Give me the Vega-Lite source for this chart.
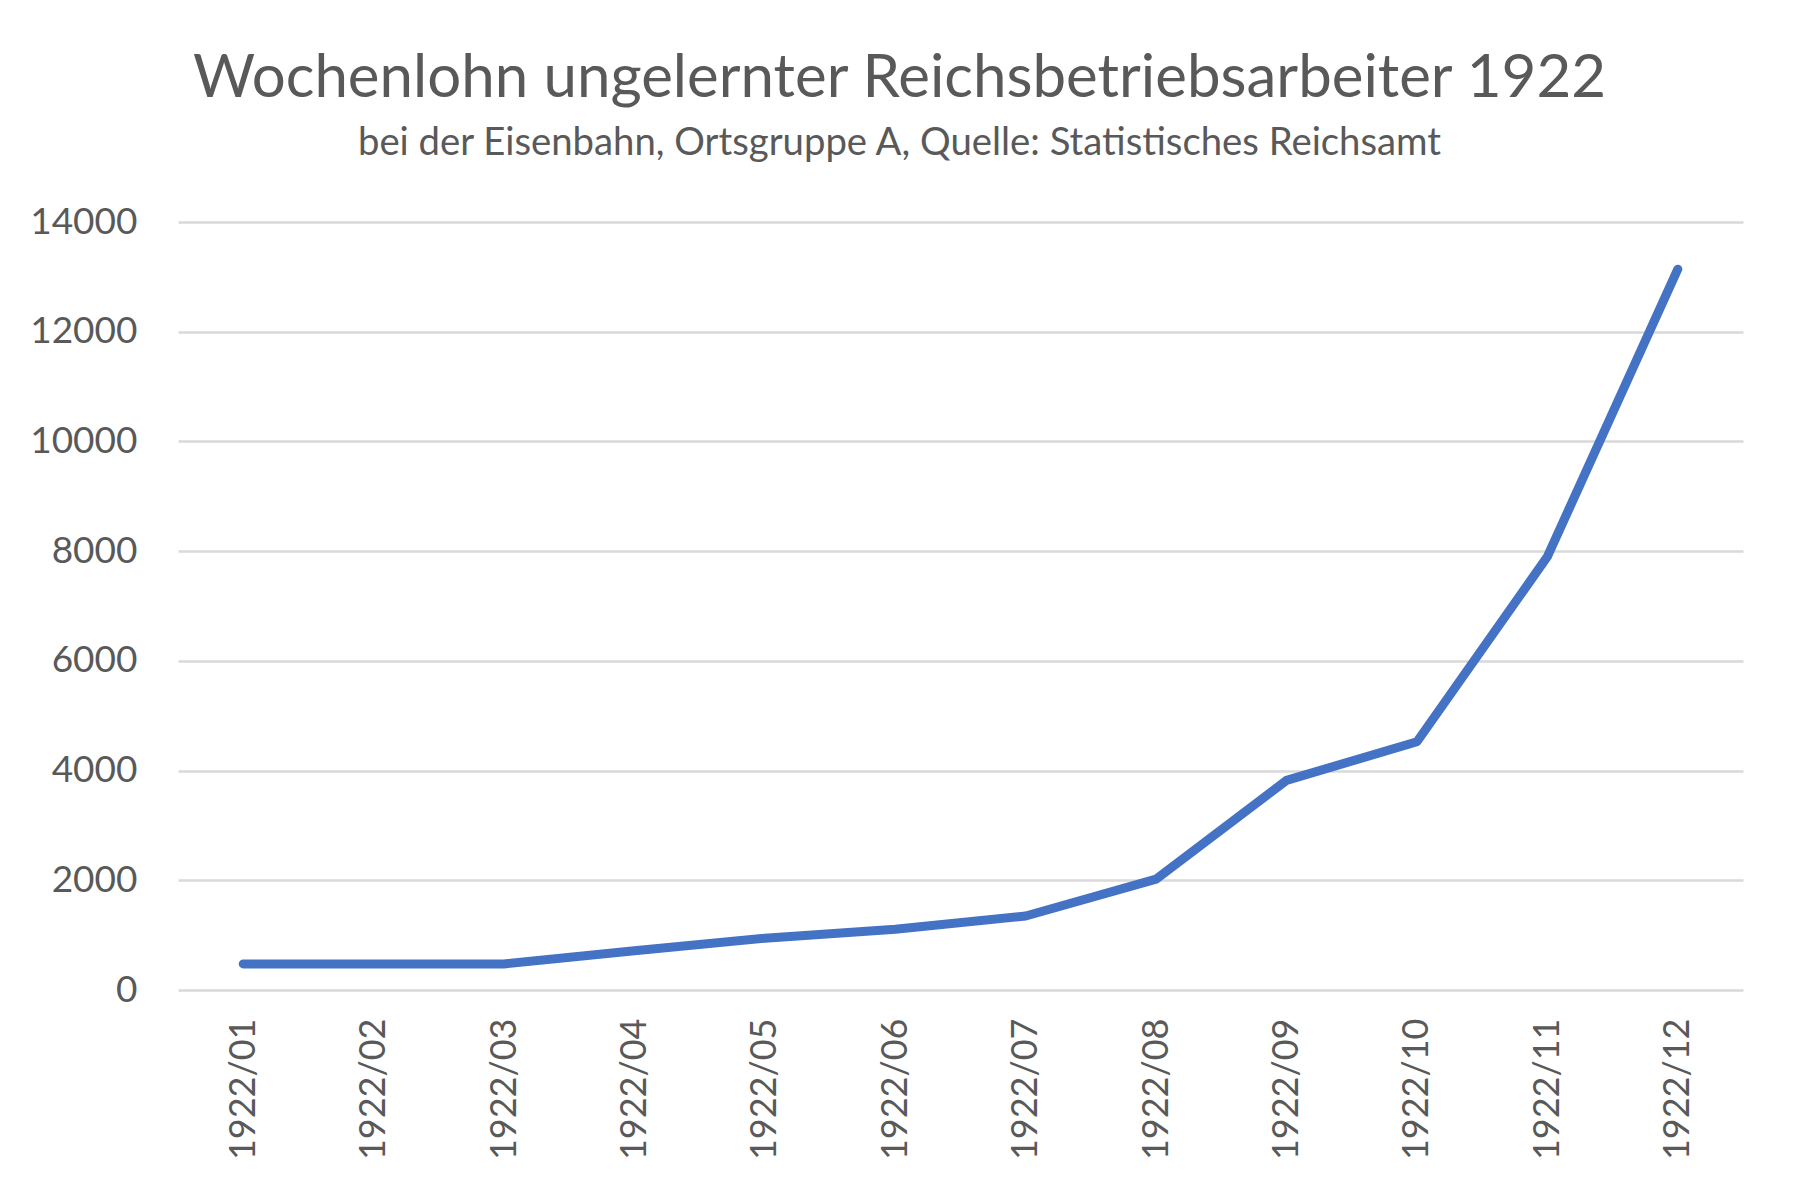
{
  "$schema": "https://vega.github.io/schema/vega-lite/v6.json",
  "autosize": {"type": "none"},
  "padding": {"left": 178, "top": 222, "right": 58, "bottom": 206},
  "width": 1565,
  "height": 768,
  "background": "white",
  "title": {
    "text": "Wochenlohn ungelernter Reichsbetriebsarbeiter 1922",
    "subtitle": "bei der Eisenbahn, Ortsgruppe A, Quelle: Statistisches Reichsamt",
    "anchor": "middle",
    "dx": -61,
    "offset": 40,
    "font": "Lato",
    "fontSize": 60,
    "fontWeight": "normal",
    "color": "#595959",
    "subtitleFont": "Lato",
    "subtitleFontSize": 38.3,
    "subtitleColor": "#595959",
    "subtitlePadding": 15
  },
  "data": {
    "values": [
      {"monat": "1922/01", "lohn": 475},
      {"monat": "1922/02", "lohn": 475},
      {"monat": "1922/03", "lohn": 475},
      {"monat": "1922/04", "lohn": 715},
      {"monat": "1922/05", "lohn": 943},
      {"monat": "1922/06", "lohn": 1107},
      {"monat": "1922/07", "lohn": 1349},
      {"monat": "1922/08", "lohn": 2022},
      {"monat": "1922/09", "lohn": 3822},
      {"monat": "1922/10", "lohn": 4525},
      {"monat": "1922/11", "lohn": 7900},
      {"monat": "1922/12", "lohn": 13140}
    ]
  },
  "mark": {"type": "line", "color": "#4472C4", "strokeWidth": 9, "strokeCap": "round", "strokeJoin": "round"},
  "encoding": {
    "x": {
      "field": "monat",
      "type": "ordinal",
      "scale": {"type": "point", "padding": 0.5},
      "axis": {
        "title": null,
        "domain": false,
        "ticks": false,
        "grid": false,
        "labelAngle": -90,
        "labelAlign": "right",
        "labelBaseline": "middle",
        "labelPadding": 28,
        "labelFont": "Lato",
        "labelFontSize": 36,
        "labelColor": "#595959"
      }
    },
    "y": {
      "field": "lohn",
      "type": "quantitative",
      "scale": {"domain": [0, 14000], "nice": false},
      "axis": {
        "title": null,
        "values": [0, 2000, 4000, 6000, 8000, 10000, 12000, 14000],
        "format": "d",
        "domain": false,
        "ticks": false,
        "grid": true,
        "gridColor": "#d9d9d9",
        "gridWidth": 2.5,
        "labelPadding": 41,
        "labelFont": "Lato",
        "labelFontSize": 37,
        "labelColor": "#595959"
      }
    }
  },
  "config": {"view": {"stroke": null}}
}
